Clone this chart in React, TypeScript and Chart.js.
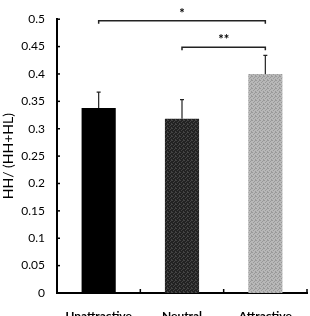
import React, { useEffect, useRef } from "react";
import { Chart, registerables } from "chart.js";

Chart.register(...registerables);

// Group labels, mean ratios and upper error extents
const categories = ["Unattractive", "Neutral", "Attractive"];
const means = [0.338, 0.318, 0.4];
const errors = [0.029, 0.035, 0.034];
const yTickValues = [0, 0.05, 0.1, 0.15, 0.2, 0.25, 0.3, 0.35, 0.4, 0.45, 0.5];

// Significance brackets: bar indices, height on the y scale, and marker
const bracketFrom = [0, 1];
const bracketTo = [2, 2];
const bracketLevel = [0.497, 0.449];
const bracketLabel = ["*", "**"];

const FONT = "Lato, 'Open Sans', sans-serif";

function makePattern(a: string, b: string): CanvasPattern | string {
  const c = document.createElement("canvas");
  c.width = 4;
  c.height = 4;
  const g = c.getContext("2d");
  if (!g) return a;
  g.fillStyle = a;
  g.fillRect(0, 0, 4, 4);
  g.fillStyle = b;
  // sparse dither dots
  const dots = [
    [0, 0],
    [2, 1],
    [1, 2],
    [3, 3],
    [3, 0],
  ];
  dots.forEach(([x, y]) => g.fillRect(x, y, 1, 1));
  const p = g.createPattern(c, "repeat");
  return p || a;
}

const overlayPlugin = {
  id: "overlay",
  afterDatasetsDraw(chart: any) {
    const ctx = chart.ctx as CanvasRenderingContext2D;
    const xs = chart.scales.x;
    const ys = chart.scales.y;
    const meta = chart.getDatasetMeta(0);
    ctx.save();

    // inward tick marks on the y axis
    ctx.strokeStyle = "#000";
    ctx.lineWidth = 1.5;
    const ax = chart.chartArea.left;
    yTickValues.forEach((v) => {
      const y = ys.getPixelForValue(v);
      ctx.beginPath();
      ctx.moveTo(ax, y);
      ctx.lineTo(ax + 3, y);
      ctx.stroke();
    });
    // inward tick marks on the x axis at category boundaries
    const by = chart.chartArea.bottom;
    const step = xs.getPixelForValue(1) - xs.getPixelForValue(0);
    categories.forEach((_, i) => {
      const x = xs.getPixelForValue(i) + step / 2;
      ctx.beginPath();
      ctx.moveTo(x, by);
      ctx.lineTo(x, by - 4);
      ctx.stroke();
    });

    // error bars (upper only)
    ctx.strokeStyle = "#222";
    ctx.lineWidth = 1.2;
    meta.data.forEach((el: any, i: number) => {
      const yTop = ys.getPixelForValue(means[i] + errors[i]);
      ctx.beginPath();
      ctx.moveTo(el.x, el.y);
      ctx.lineTo(el.x, yTop);
      ctx.moveTo(el.x - 2, yTop);
      ctx.lineTo(el.x + 2, yTop);
      ctx.stroke();
    });

    // significance brackets
    ctx.strokeStyle = "#222";
    ctx.lineWidth = 1.5;
    ctx.fillStyle = "#000";
    ctx.font = `bold 13px ${FONT}`;
    ctx.textAlign = "center";
    ctx.textBaseline = "middle";
    bracketLevel.forEach((lvl, k) => {
      const x1 = xs.getPixelForValue(bracketFrom[k]);
      const x2 = xs.getPixelForValue(bracketTo[k]);
      const y = ys.getPixelForValue(lvl);
      ctx.beginPath();
      ctx.moveTo(x1, y + 3);
      ctx.lineTo(x1, y);
      ctx.lineTo(x2, y);
      ctx.lineTo(x2, y + 3);
      ctx.stroke();
      ctx.fillText(bracketLabel[k], (x1 + x2) / 2, y - 7);
    });
    ctx.restore();
  },
};

export default function App() {
  const ref = useRef<HTMLCanvasElement>(null);

  useEffect(() => {
    if (!ref.current) return;
    const fills = [
      "#000000",
      makePattern("#222222", "#444444"),
      makePattern("#b8b8b8", "#999999"),
    ];
    const chart = new Chart(ref.current, {
      type: "bar",
      data: {
        labels: categories,
        datasets: [
          {
            data: means,
            backgroundColor: fills as any,
            borderWidth: 0,
            categoryPercentage: 1,
            barPercentage: 0.41,
          },
        ],
      },
      options: {
        animation: false,
        responsive: false,
        maintainAspectRatio: false,
        layout: { padding: { top: 14, right: 3, left: 0, bottom: 0 } },
        plugins: {
          legend: { display: false },
          tooltip: { enabled: false },
        },
        scales: {
          x: {
            grid: { display: false, drawTicks: false },
            border: { display: true, color: "#000", width: 2 },
            ticks: {
              color: "#000",
              font: { family: FONT, size: 12, weight: "bold" },
              padding: 16,
              maxRotation: 0,
            },
            afterFit(scale: any) {
              scale.height = 23;
            },
          },
          y: {
            min: 0,
            max: 0.5,
            grid: { display: false, drawTicks: false },
            border: { display: true, color: "#000", width: 2 },
            ticks: {
              stepSize: 0.05,
              color: "#000",
              padding: 12,
              font: { family: FONT, size: 12 },
              callback: (v: any) => String(Number(Number(v).toFixed(2))),
            },
            title: {
              display: true,
              text: "HH/ (HH+HL)",
              color: "#000",
              font: { family: FONT, size: 14 },
              padding: { top: 0, bottom: 0 },
            },
            afterFit(scale: any) {
              scale.width = 57;
            },
          },
        },
      },
      plugins: [overlayPlugin],
    });
    return () => chart.destroy();
  }, []);

  return (
    <div style={{ position: "fixed", left: 0, top: 0, width: 310, height: 316, background: "#fff" }}>
      <canvas ref={ref} width={310} height={316} style={{ display: "block" }} />
    </div>
  );
}
